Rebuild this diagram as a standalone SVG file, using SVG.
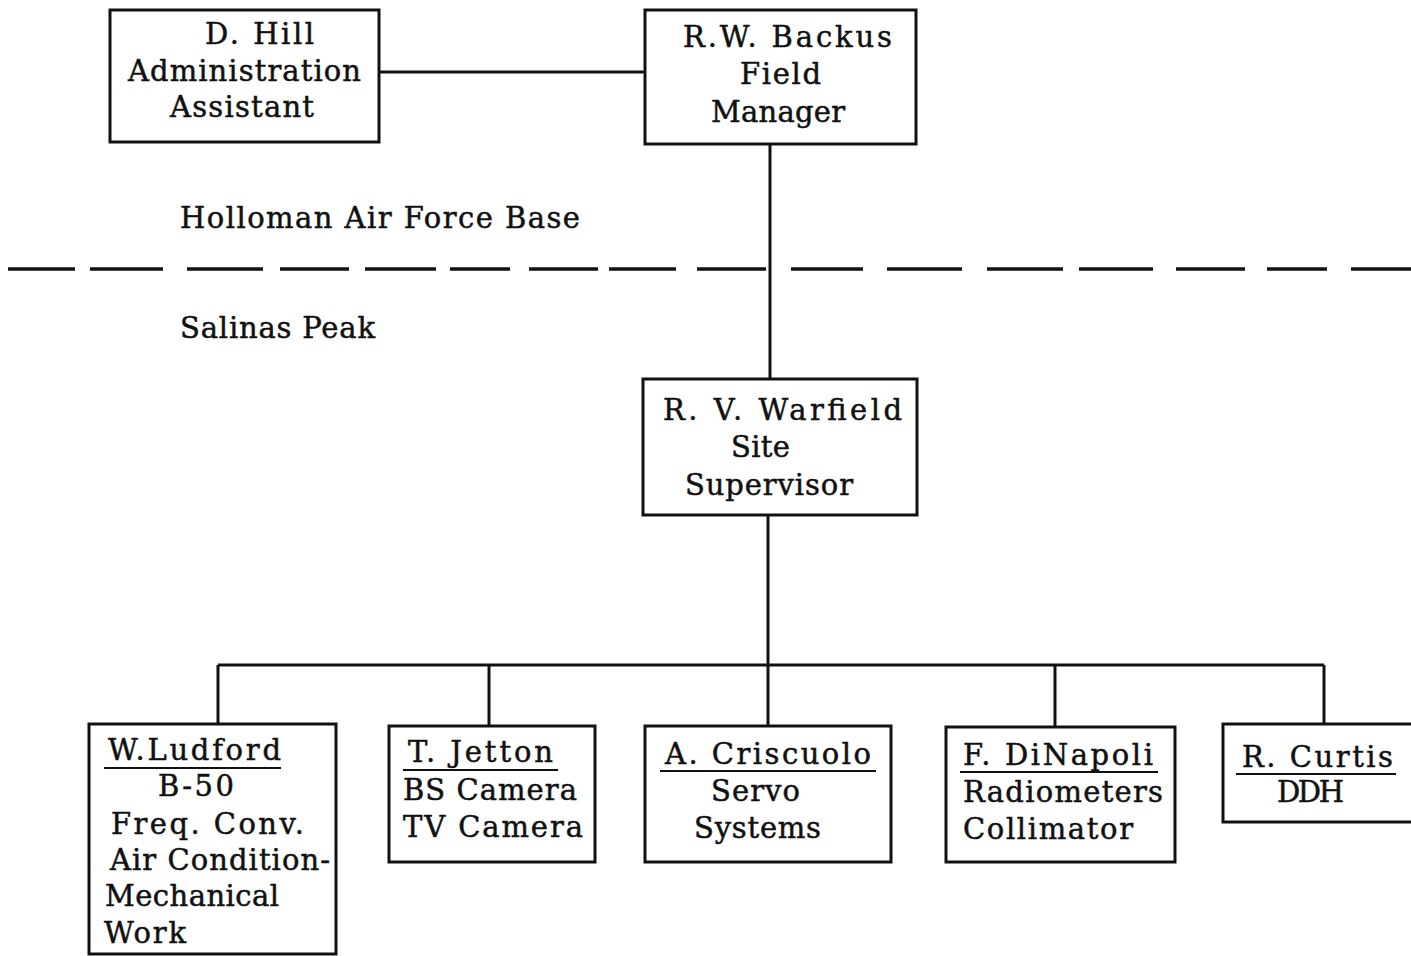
<svg xmlns="http://www.w3.org/2000/svg" width="1411" height="956" viewBox="0 0 1411 956">
<style>
.box{fill:#fff;stroke:#111;stroke-width:3}
.ln{fill:none;stroke:#111;stroke-width:3}
.dash{fill:none;stroke:#111;stroke-width:3.5}
.ul{fill:none;stroke:#111;stroke-width:2}
.t{font-family:"DejaVu Serif","Liberation Serif",serif;font-size:29px;fill:#111;stroke:#111;stroke-width:0.5}
</style>
<rect width="1411" height="956" fill="#fff"/>
<g id="connectors">
<line class="ln" x1="379" y1="72" x2="645" y2="72"/>
<line class="ln" x1="770" y1="144" x2="770" y2="379"/>
<line class="ln" x1="768" y1="515" x2="768" y2="665"/>
<line class="ln" x1="218" y1="665" x2="1324" y2="665"/>
<line class="ln" x1="218" y1="665" x2="218" y2="724"/>
<line class="ln" x1="489" y1="665" x2="489" y2="726"/>
<line class="ln" x1="768" y1="665" x2="768" y2="726"/>
<line class="ln" x1="1055" y1="665" x2="1055" y2="727"/>
<line class="ln" x1="1324" y1="665" x2="1324" y2="724"/>
</g>
<g id="divider">
<path class="dash" d="M8 269H75M90 269H163M187 269H263M280 269H349M365 269H436M450 269H510M529 269H598M609 269H676M697 269H766M791 269H863M887 269H962M987 269H1063M1079 269H1153M1176 269H1245M1267 269H1327M1351 269H1411"/>
<text class="t" x="180" y="228" textLength="400" lengthAdjust="spacing">Holloman Air Force Base</text>
<text class="t" x="180" y="338" textLength="195" lengthAdjust="spacing">Salinas Peak</text>
</g>
<g id="hill">
<rect class="box" x="110" y="10" width="269" height="132"/>
<text class="t" x="205" y="44" textLength="109" lengthAdjust="spacing">D. Hill</text>
<text class="t" x="128" y="81" textLength="233" lengthAdjust="spacing">Administration</text>
<text class="t" x="170" y="117" textLength="144" lengthAdjust="spacing">Assistant</text>
</g>
<g id="backus">
<rect class="box" x="645" y="10" width="271" height="134"/>
<text class="t" x="683" y="47" textLength="209" lengthAdjust="spacing">R.W. Backus</text>
<text class="t" x="740" y="84" textLength="81" lengthAdjust="spacing">Field</text>
<text class="t" x="711" y="122" textLength="134" lengthAdjust="spacing">Manager</text>
</g>
<g id="warfield">
<rect class="box" x="643" y="379" width="274" height="136"/>
<text class="t" x="663" y="420" textLength="239" lengthAdjust="spacing">R. V. Warfield</text>
<text class="t" x="731" y="457" textLength="59" lengthAdjust="spacing">Site</text>
<text class="t" x="685" y="495" textLength="168" lengthAdjust="spacing">Supervisor</text>
</g>
<g id="ludford">
<rect class="box" x="89" y="724" width="247" height="230"/>
<text class="t" x="108" y="760" textLength="173" lengthAdjust="spacing">W.Ludford</text>
<line class="ul" x1="104" y1="768" x2="281" y2="768"/>
<text class="t" x="158" y="796" textLength="76" lengthAdjust="spacing">B-50</text>
<text class="t" x="111" y="834" textLength="193" lengthAdjust="spacing">Freq. Conv.</text>
<text class="t" x="110" y="870" textLength="220" lengthAdjust="spacing">Air Condition-</text>
<text class="t" x="105" y="906" textLength="174" lengthAdjust="spacing">Mechanical</text>
<text class="t" x="104" y="943" textLength="82" lengthAdjust="spacing">Work</text>
</g>
<g id="jetton">
<rect class="box" x="389" y="726" width="206" height="136"/>
<text class="t" x="408" y="762" textLength="145" lengthAdjust="spacing">T. Jetton</text>
<line class="ul" x1="403" y1="770" x2="558" y2="770"/>
<text class="t" x="403" y="800" textLength="174" lengthAdjust="spacing">BS Camera</text>
<text class="t" x="403" y="837" textLength="180" lengthAdjust="spacing">TV Camera</text>
</g>
<g id="criscuolo">
<rect class="box" x="645" y="726" width="246" height="136"/>
<text class="t" x="665" y="764" textLength="206" lengthAdjust="spacing">A. Criscuolo</text>
<line class="ul" x1="660" y1="771" x2="876" y2="771"/>
<text class="t" x="711" y="801" textLength="89" lengthAdjust="spacing">Servo</text>
<text class="t" x="694" y="838" textLength="127" lengthAdjust="spacing">Systems</text>
</g>
<g id="dinapoli">
<rect class="box" x="946" y="727" width="229" height="135"/>
<text class="t" x="963" y="765" textLength="190" lengthAdjust="spacing">F. DiNapoli</text>
<line class="ul" x1="960" y1="772" x2="1158" y2="772"/>
<text class="t" x="963" y="802" textLength="200" lengthAdjust="spacing">Radiometers</text>
<text class="t" x="963" y="839" textLength="170" lengthAdjust="spacing">Collimator</text>
</g>
<g id="curtis">
<path class="ln" d="M1420 724H1223V822H1420"/>
<text class="t" x="1242" y="767" textLength="151" lengthAdjust="spacing">R. Curtis</text>
<line class="ul" x1="1236" y1="774" x2="1396" y2="774"/>
<text class="t" x="1277" y="802" textLength="67" lengthAdjust="spacing">DDH</text>
</g>
</svg>
